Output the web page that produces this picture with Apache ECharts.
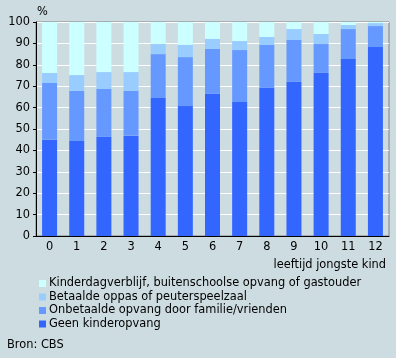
<!DOCTYPE html>
<html><head><meta charset="utf-8">
<script src="https://cdn.jsdelivr.net/npm/echarts@6/dist/echarts.min.js"></script>
<style>html,body{margin:0;padding:0;background:#cddce1;}#c{width:396px;height:358px;}</style>
</head><body><div id="c"></div>
<script>
const categories = ['0','1','2','3','4','5','6','7','8','9','10','11','12'];
const geen = [45.0, 44.4, 46.3, 46.9, 64.5, 60.7, 66.4, 62.6, 69.2, 72.0, 76.2, 82.7, 88.3];
const onbetaald = [26.5, 23.4, 22.4, 20.9, 20.5, 22.9, 21.0, 24.3, 20.1, 19.6, 13.5, 14.0, 9.8];
const betaald = [4.7, 7.4, 7.9, 8.8, 4.7, 5.7, 4.7, 4.2, 3.7, 5.1, 4.7, 1.9, 1.4];
const kinder = [23.8, 24.8, 23.4, 23.4, 10.3, 10.7, 7.9, 8.9, 7.0, 3.3, 5.6, 1.4, 0.5];
const yTicks = [0,10,20,30,40,50,60,70,80,90,100];
const names = ['Kinderdagverblijf, buitenschoolse opvang of gastouder','Betaalde oppas of peuterspeelzaal','Onbetaalde opvang door familie/vrienden','Geen kinderopvang'];
const colors = {geen:'#3366ff', onb:'#6699ff', bet:'#99ccff', kin:'#ccffff'};
const font = 'DejaVu Sans';
const fs = 11.4;
const chart = echarts.init(document.getElementById('c'));
function s(name, data, color){return {name, type:'bar', stack:'t', data, barWidth:15, itemStyle:{color}, emphasis:{disabled:true}};}
chart.setOption({
  animation:false,
  backgroundColor:'#cddce1',
  textStyle:{fontFamily:font, color:'#000'},
  grid:{left:36, right:7, top:22, bottom:122, show:true, borderColor:'#808080', borderWidth:1, backgroundColor:'transparent'},
  xAxis:{type:'category', data:categories, axisLine:{lineStyle:{color:'#000'}}, axisTick:{show:false},
    axisLabel:{fontFamily:font, fontSize:fs, color:'#000', margin:6}, name:'leeftijd jongste kind', nameLocation:'end',
    nameGap:0, nameTextStyle:{fontFamily:font, fontSize:fs, color:'#000', align:'right', verticalAlign:'top', padding:[24,3,0,0]}},
  yAxis:{type:'value', min:0, max:100, interval:10, axisLine:{show:true, lineStyle:{color:'#000'}},
    axisTick:{show:true, length:3, lineStyle:{color:'#000'}}, splitLine:{lineStyle:{color:'#ffffff'}},
    axisLabel:{fontFamily:font, fontSize:fs, color:'#000', margin:6, formatter:v=>yTicks.includes(v)?String(v):''},
    name:'%', nameLocation:'end', nameGap:4, nameTextStyle:{fontFamily:font, fontSize:fs, color:'#000', align:'left', padding:[0,0,0,1]}},
  legend:{orient:'vertical', left:39, top:278, padding:0, itemWidth:7, itemHeight:7, itemGap:2.5, icon:'rect',
    data:names, textStyle:{fontFamily:font, fontSize:fs, color:'#000', padding:[0,0,0,-2]}},
  graphic:[{type:'text', left:7, top:340, style:{text:'Bron: CBS', font:fs+'px "DejaVu Sans"', fill:'#000'}}],
  series:[
    s(names[3], geen, colors.geen),
    s(names[2], onbetaald, colors.onb),
    s(names[1], betaald, colors.bet),
    s(names[0], kinder, colors.kin)
  ]
});
</script></body></html>
